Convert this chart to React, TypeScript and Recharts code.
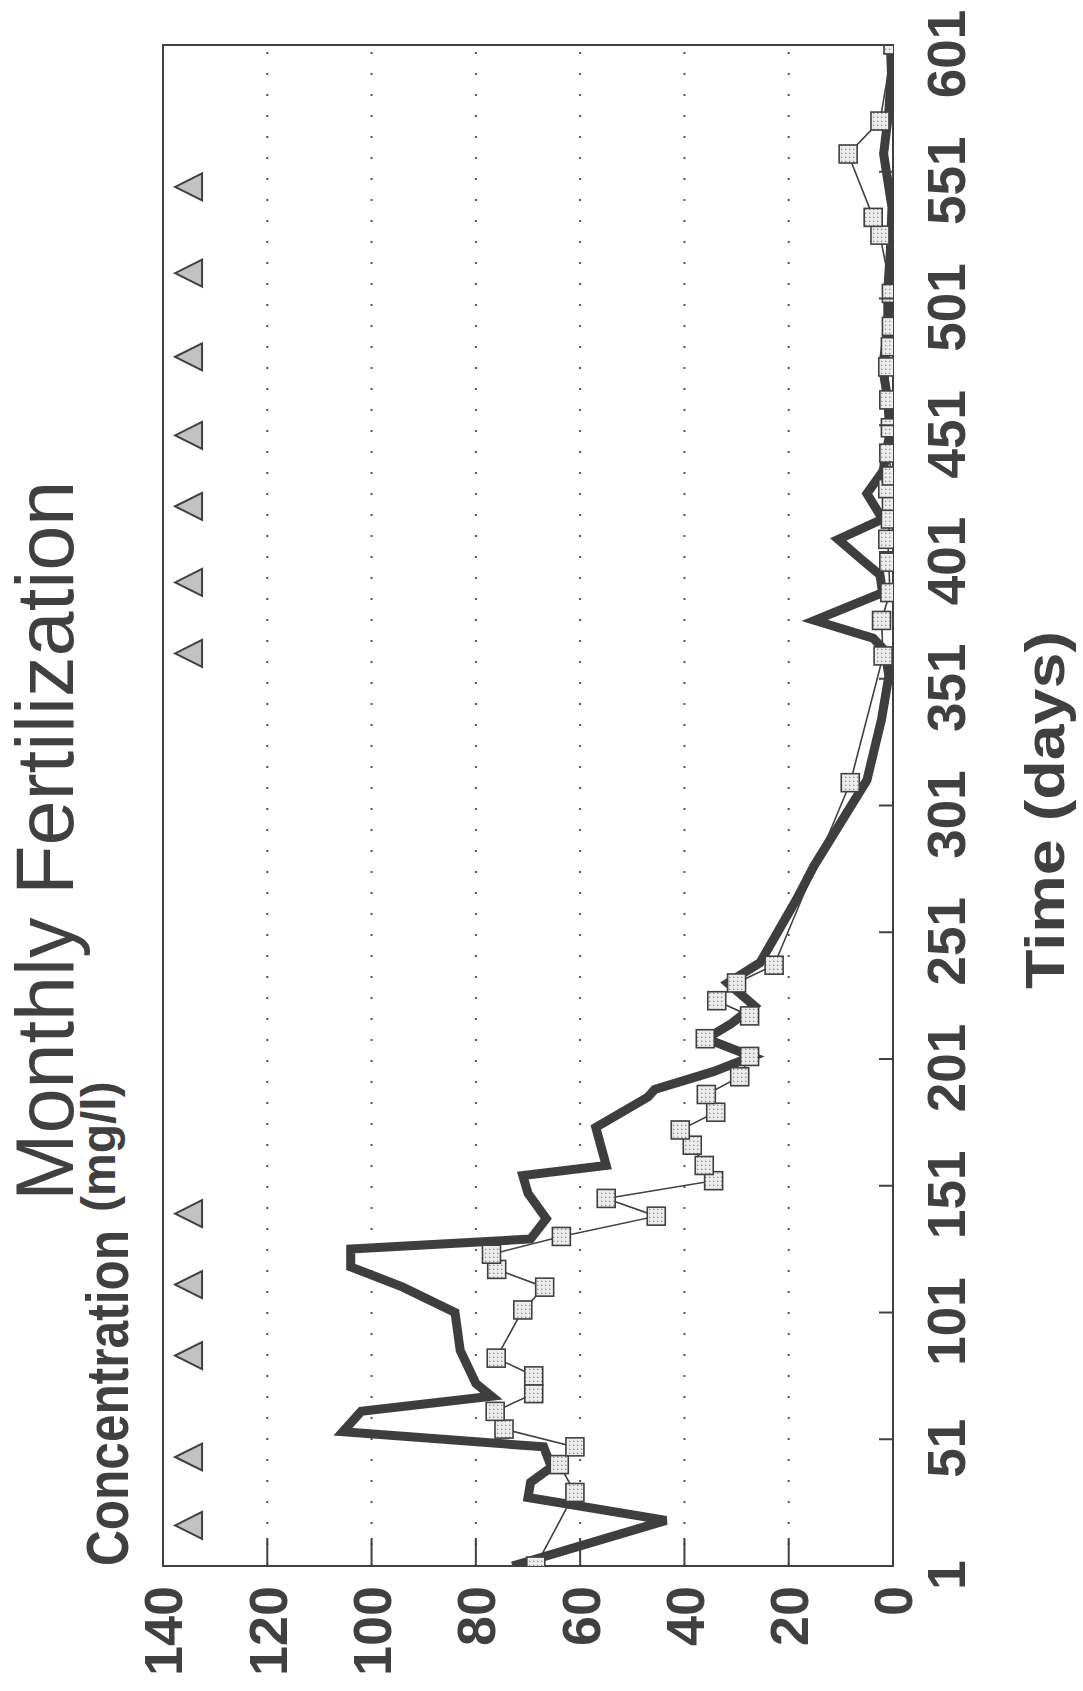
import React from "react";
import {
  ComposedChart,
  Line,
  Scatter,
  XAxis,
  YAxis,
  CartesianGrid,
  ReferenceArea,
} from "recharts";

// chart is drawn landscape, then turned a quarter left like the scanned page
const W = 1691;
const H = 1083;
const INK = "#404040";
const FONT = "'Liberation Sans', Arial, sans-serif";

const timeTicks = [1, 51, 101, 151, 201, 251, 301, 351, 401, 451, 501, 551, 601];
const concTicks = [0, 20, 40, 60, 80, 100, 120, 140];

// heavy line (no markers)
const lineDays = [
  1, 19, 28, 34, 40, 48, 54, 62, 68, 73, 86, 101, 111, 119, 126, 130, 138, 148,
  155, 159, 174, 186, 189, 196, 202, 209, 215, 222, 231, 239, 264, 277, 311, 335,
  352, 362, 367, 374, 385, 392, 398, 406, 414, 424, 433, 448, 461, 474, 489, 504,
  520, 537, 558, 575, 590, 601,
];
const lineValues = [
  73, 43.5, 70, 69.5, 65.5, 67, 105.5, 102, 77, 80, 83, 84, 94, 104, 104, 69.5,
  66.5, 70, 71, 55, 57, 47, 45.7, 34.5, 27, 35.8, 31, 26.6, 31.7, 25.5, 18.5,
  15.2, 5, 2.2, 0.8, 1.5, 3.8, 15, 2, 2.5, 6, 10.5, 2, 5, 1.9, 0.6, 1, 2, 1, 1,
  0.5, 0.2, 1.8, 0.8, 0.3, 0.5,
];

// thin line with square markers
const squareDays = [
  1, 30, 41, 48, 55, 62, 69, 76, 83, 102, 111, 118, 124, 131, 139, 146, 153, 159,
  167, 173, 180, 187, 194, 202, 209, 218, 224, 231, 238, 310, 360, 374, 385, 397,
  406, 414, 421, 426, 431, 440, 450, 461, 474, 482, 490, 503, 526, 533, 558, 571,
  601,
];
const squareValues = [
  68.5, 61, 64, 61, 74.6, 76.3, 68.9, 68.9, 76.1, 71, 66.8, 76, 77, 63.6, 45.4,
  55, 34.4, 36.2, 38.5, 40.8, 34, 35.8, 29.4, 27.5, 36, 27.5, 33.8, 30, 22.8,
  8.2, 1.9, 2.2, 0.6, 0.8, 1, 0.5, 0.3, 1, 0.3, 0.8, 0.5, 0.8, 1, 0.5, 0.3, 0.3,
  2.5, 3.8, 8.6, 2.5, 0,
];

// fertilization events
const fertDays = [17, 44, 84, 112, 140, 361, 389, 419, 447, 478, 511, 545];
const fertLevel = 135;

const lineData = lineDays.map((d, i) => ({ day: d, v: lineValues[i] }));
const squareData = squareDays.map((d, i) => ({ day: d, v: squareValues[i] }));
const fertData = fertDays.map((d) => ({ day: d, v: fertLevel }));

const X_MARGIN = 48;
const Y_MARGIN = 48;

const TimeTick = (props: any) => {
  const { x, y, payload } = props;
  const axisY = y - X_MARGIN;
  return (
    <g>
      <line x1={x} x2={x} y1={axisY} y2={axisY - 14} stroke={INK} strokeWidth={2} />
      <text
        x={x - 9}
        y={axisY + 72}
        textAnchor="middle"
        fontSize={53}
        fontWeight={700}
        fontFamily={FONT}
        fill={INK}
      >
        {payload.value}
      </text>
    </g>
  );
};

const ConcTick = (props: any) => {
  const { x, y, payload } = props;
  const axisX = x + Y_MARGIN;
  return (
    <g>
      <line x1={axisX} x2={axisX + 28} y1={y} y2={y} stroke={INK} strokeWidth={2} />
      <text
        x={axisX - 20}
        y={y}
        dy="0.36em"
        textAnchor="end"
        fontSize={54}
        fontWeight={700}
        fontFamily={FONT}
        fill={INK}
      >
        {payload.value}
      </text>
    </g>
  );
};

const renderSquare = (p: any) => {
  if (p.cx == null || p.cy == null) return <g key={`sq-${p.index}`} />;
  return (
    <rect
      key={`sq-${p.index}`}
      x={p.cx - 9}
      y={p.cy - 9}
      width={18}
      height={18}
      fill="url(#dotfill)"
      stroke={INK}
      strokeWidth={1.6}
    />
  );
};

const Triangle = (p: any) => {
  const { cx, cy } = p;
  return (
    <path
      d={`M${cx},${cy - 14} L${cx - 13.5},${cy + 13} L${cx + 13.5},${cy + 13} Z`}
      fill="#c2c2c2"
      stroke={INK}
      strokeWidth={2}
    />
  );
};

export default function App() {
  return (
    <div
      style={{
        position: "absolute",
        left: 0,
        top: 0,
        width: H,
        height: W,
        overflow: "hidden",
        background: "#fff",
      }}
    >
      <div
        style={{
          position: "absolute",
          left: 0,
          top: 0,
          width: W,
          height: H,
          transformOrigin: "0 0",
          transform: `translateY(${W}px) rotate(-90deg)`,
        }}
      >
        <svg width={0} height={0} style={{ position: "absolute" }}>
          <defs>
            <pattern id="dotfill" width={4} height={4} patternUnits="userSpaceOnUse">
              <rect width={4} height={4} fill="#ececec" />
              <rect x={1} y={1} width={1.3} height={1.3} fill="#8a8a8a" />
            </pattern>
          </defs>
        </svg>
        <ComposedChart
          width={W}
          height={H}
          margin={{ top: 163, right: 45, bottom: 0, left: 0 }}
        >
          <CartesianGrid
            vertical={false}
            stroke="#555"
            strokeWidth={2}
            strokeDasharray="2 19"
          />
          <XAxis
            dataKey="day"
            type="number"
            domain={[1, 601]}
            ticks={timeTicks}
            height={190}
            axisLine={false}
            tickLine={false}
            tickSize={0}
            tickMargin={X_MARGIN}
            tick={<TimeTick />}
            interval={0}
            allowDataOverflow
          />
          <YAxis
            type="number"
            domain={[0, 140]}
            ticks={concTicks}
            width={125}
            axisLine={false}
            tickLine={false}
            tickSize={0}
            tickMargin={Y_MARGIN}
            tick={<ConcTick />}
            interval={0}
            allowDataOverflow
          />
          <ReferenceArea
            x1={1}
            x2={601}
            y1={0}
            y2={140}
            fill="none"
            fillOpacity={0}
            stroke={INK}
            strokeWidth={2}
            ifOverflow="visible"
          />
          <Line
            data={squareData}
            dataKey="v"
            type="linear"
            stroke={INK}
            strokeWidth={1.6}
            dot={renderSquare}
            activeDot={false}
            isAnimationActive={false}
          />
          <Line
            data={lineData}
            dataKey="v"
            type="linear"
            stroke="#3e3e3e"
            strokeWidth={9}
            strokeLinejoin="miter"
            dot={false}
            activeDot={false}
            isAnimationActive={false}
          />
          <Scatter
            data={fertData}
            dataKey="v"
            shape={<Triangle />}
            isAnimationActive={false}
          />
        </ComposedChart>
        <svg
          width={W}
          height={H}
          style={{ position: "absolute", left: 0, top: 0, pointerEvents: "none" }}
        >
          <text x={490} y={73} fontSize={81} fontFamily={FONT} fill={INK}>
            Monthly Fertilization
          </text>
          <text
            x={125}
            y={128}
            fontSize={60}
            fontWeight={700}
            fontFamily={FONT}
            fill={INK}
            textLength={336}
            lengthAdjust="spacingAndGlyphs"
          >
            Concentration
          </text>
          <text x={479} y={115} fontSize={48} fontWeight={700} fontFamily={FONT} fill={INK}>
            (mg/l)
          </text>
          <text
            x={881}
            y={1064}
            textAnchor="middle"
            fontSize={56}
            fontWeight={700}
            fontFamily={FONT}
            fill={INK}
            textLength={358}
            lengthAdjust="spacingAndGlyphs"
          >
            Time (days)
          </text>
        </svg>
      </div>
    </div>
  );
}
